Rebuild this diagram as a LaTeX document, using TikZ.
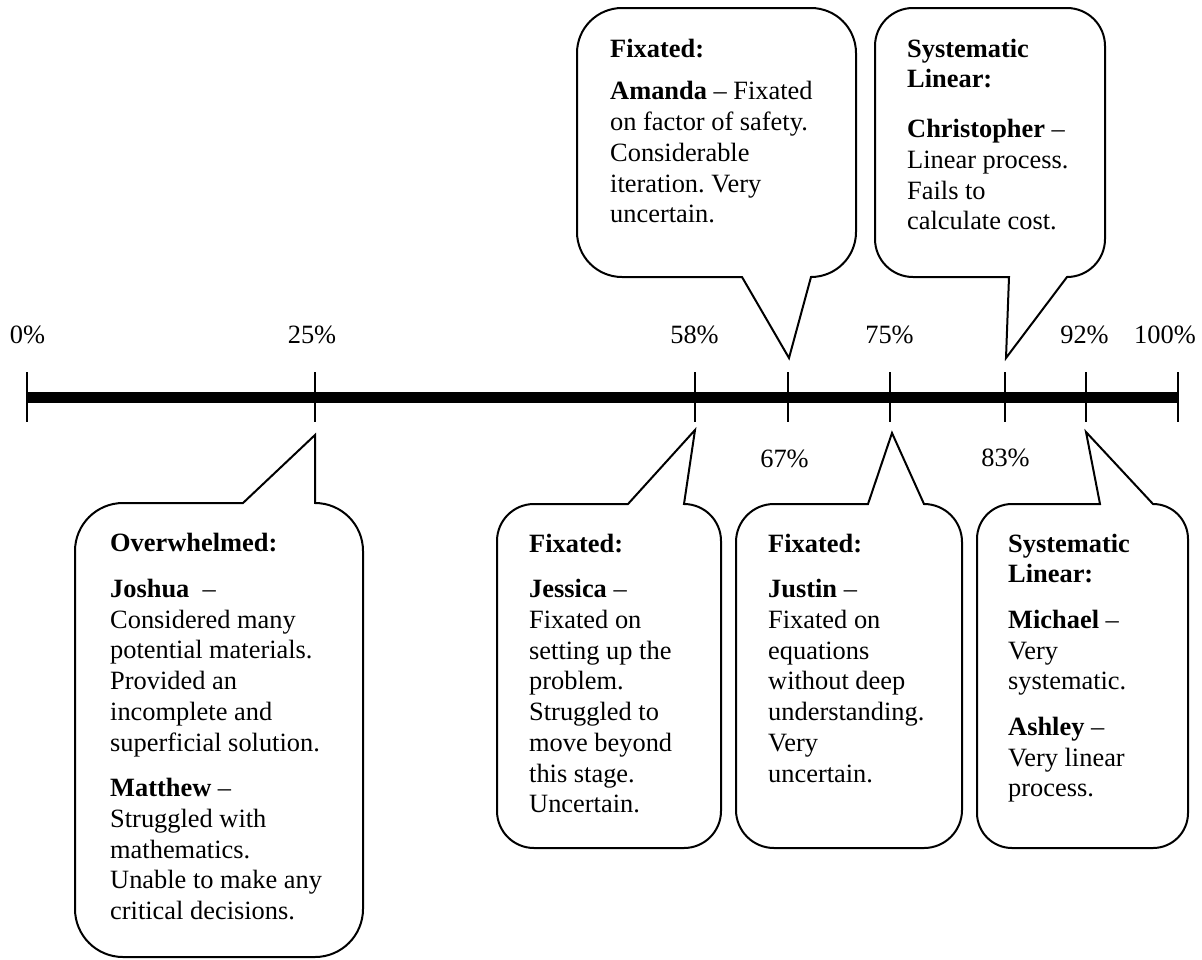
\documentclass[tikz,border=0pt]{standalone}
\usepackage{fontspec}
\setmainfont{Liberation Serif}
\frenchspacing
\newcommand{\gp}{14.9pt}
\newcommand{\fl}{\rule{0pt}{20pt}}
\tikzset{
  cbox/.style={draw=black, line width=2pt, line join=miter, fill=white},
  ctext/.style={anchor=north west, inner sep=0pt, align=left, font=\fontsize{26.4}{30.7}\selectfont},
  pct/.style={anchor=base, inner sep=0pt, font=\fontsize{26.4}{30.7}\selectfont},
  tickline/.style={draw=black, line width=2pt},
  barline/.style={draw=black, line width=10.5pt}
}
% callout with tail on the top side: L,T,R,B,r,baseleft,tip
\newcommand{\calloutup}[7]{%
  \draw[cbox] (#6,-#2) -- (#7) -- (#3-#5,-#2) arc[start angle=90,end angle=0,radius=#5]
    -- (#3,-#4+#5) arc[start angle=0,end angle=-90,radius=#5]
    -- (#1+#5,-#4) arc[start angle=270,end angle=180,radius=#5]
    -- (#1,-#2-#5) arc[start angle=180,end angle=90,radius=#5] -- cycle;}
% callout with tail on the bottom side: L,T,R,B,r,baseleft,tip
\newcommand{\calloutdown}[7]{%
  \draw[cbox] (#6,-#4) -- (#7) -- (#3-#5,-#4) arc[start angle=-90,end angle=0,radius=#5]
    -- (#3,-#2-#5) arc[start angle=0,end angle=90,radius=#5]
    -- (#1+#5,-#2) arc[start angle=90,end angle=180,radius=#5]
    -- (#1,-#4+#5) arc[start angle=180,end angle=270,radius=#5] -- cycle;}
\begin{document}
\begin{tikzpicture}[x=1pt,y=1pt]
\useasboundingbox (0,0) rectangle (1202,-959);
% timeline
\coordinate (t0) at (27,-397.5);
\coordinate (t25) at (315,-397.5);
\coordinate (t58) at (695,-397.5);
\coordinate (t67) at (788,-397.5);
\coordinate (t75) at (890,-397.5);
\coordinate (t83) at (1005,-397.5);
\coordinate (t92) at (1086,-397.5);
\coordinate (t100) at (1178,-397.5);
\draw[barline] (t0) -- (t100);
\foreach \t in {t0,t25,t58,t67,t75,t83,t92,t100}{
  \draw[tickline] ([yshift=25.5pt]\t) -- ([yshift=-24.5pt]\t);
}
% percent labels
\node[pct] (l0) at (27.5,-343) {0\%};
\node[pct] (l25) at (312,-343) {25\%};
\node[pct] (l58) at (694.5,-343) {58\%};
\node[pct] (l75) at (889.5,-343) {75\%};
\node[pct] (l92) at (1084.5,-343) {92\%};
\node[pct] (l100) at (1165,-343) {100\%};
\node[pct] (l67) at (784.5,-467) {67\%};
\node[pct] (l83) at (1005.5,-466) {83\%};
% tail tips
\coordinate (tipA) at (789,-358);
\coordinate (tipC) at (1006,-358);
\coordinate (tipO) at (315,-435);
\coordinate (tipJe) at (695,-430);
\coordinate (tipJu) at (892,-433);
\coordinate (tipM) at (1086,-432);
% callouts
\calloutdown{577}{8}{856}{277}{45}{742}{tipA}
\calloutdown{875}{8}{1105}{277}{38}{1009}{tipC}
\calloutup{75}{503}{363}{957}{48}{243}{tipO}
\calloutup{497}{504}{721}{848}{37}{628}{tipJe}
\calloutup{736}{504}{962}{848}{38}{868}{tipJu}
\calloutup{977}{504}{1188}{848}{35}{1100}{tipM}
% texts
\node[ctext] (amanda) at (610,-37) {\fl\textbf{Fixated:}\\[12pt]
  \textbf{Amanda} – Fixated\\on factor of safety.\\Considerable\\iteration. Very\\uncertain.};
\node[ctext] (christopher) at (907,-37) {\fl\textbf{Systematic}\\\textbf{Linear:}\\[19pt]
  \textbf{Christopher} –\\Linear process.\\Fails to\\calculate cost.};
\node[ctext] (overwhelmed) at (110,-531.7) {\fl\textbf{Overwhelmed:}\\[\gp]
  \textbf{Joshua}\ \ –\\Considered many\\potential materials.\\Provided an\\incomplete and\\superficial solution.\\[\gp]
  \textbf{Matthew} –\\Struggled with\\mathematics.\\Unable to make any\\critical decisions.};
\node[ctext] (jessica) at (529,-532) {\fl\textbf{Fixated:}\\[\gp]
  \textbf{Jessica} –\\Fixated on\\setting up the\\problem.\\Struggled to\\move beyond\\this stage.\\Uncertain.};
\node[ctext] (justin) at (768,-532) {\fl\textbf{Fixated:}\\[\gp]
  \textbf{Justin} –\\Fixated on\\equations\\without deep\\understanding.\\Very\\uncertain.};
\node[ctext] (michael) at (1008,-532) {\fl\textbf{Systematic}\\\textbf{Linear:}\\[\gp]
  \textbf{Michael} –\\Very\\systematic.\\[\gp]\textbf{Ashley} –\\Very linear\\process.};
\end{tikzpicture}
\end{document}
